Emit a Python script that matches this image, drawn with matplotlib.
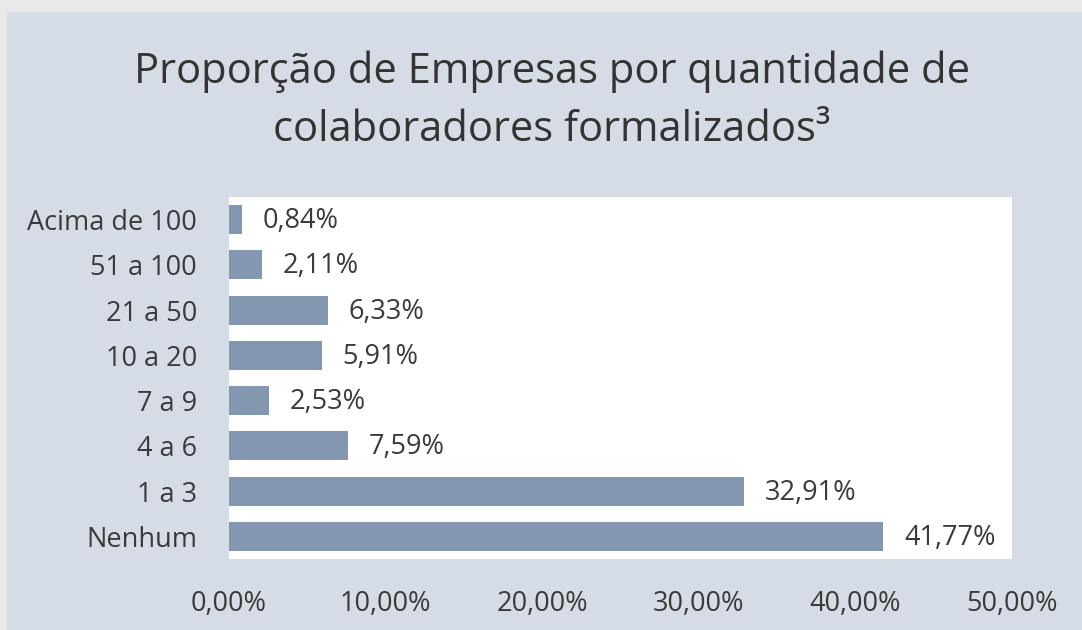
import matplotlib
matplotlib.use("Agg")
import matplotlib.pyplot as plt
from matplotlib.patches import Rectangle

categories = ["Nenhum", "1 a 3", "4 a 6", "7 a 9", "10 a 20", "21 a 50", "51 a 100", "Acima de 100"]
values = [41.77, 32.91, 7.59, 2.53, 5.91, 6.33, 2.11, 0.84]
xticks = [0, 10, 20, 30, 40, 50]
title_lines = ["Proporção de Empresas por quantidade de", "colaboradores formalizados³"]

plt.rcParams['font.family'] = ['Open Sans', 'DejaVu Sans']
W, H = 1082, 630
fig = plt.figure(figsize=(W/100, H/100), dpi=100)
fig.patch.set_facecolor('#e9e9e9')
fig.patches.append(Rectangle((7/W, 0), 1 - 7/W, 1 - 12/H, transform=fig.transFigure,
                             facecolor='#d6dce5', edgecolor='none', zorder=-5))

ax = fig.add_axes([229/W, (H-559)/H, (1012-229)/W, (559-197)/H])
ax.set_zorder(2)
ax.set_facecolor('white')
txt = '#3a3a3a'
fs = 19.5
y = range(len(categories))
ax.barh(y, values, height=0.64, color='#8497b0')
for i, v in enumerate(values):
    ax.annotate(f"{v:.2f}%".replace('.', ','), (v, i), xytext=(15, -1),
                textcoords='offset points', va='center', ha='left',
                fontsize=fs, color=txt)
ax.set_xlim(0, 50)
ax.set_ylim(-0.5, len(categories) - 0.5)
ax.set_yticks(list(y))
ax.set_yticklabels(categories, fontsize=fs, color=txt)
ax.set_xticks(xticks)
ax.set_xticklabels([f"{t:.2f}%".replace('.', ',') for t in xticks], fontsize=fs, color=txt)
ax.tick_params(axis='both', length=0)
ax.tick_params(axis='y', pad=23)
ax.tick_params(axis='x', pad=22)
for s in ax.spines.values():
    s.set_visible(False)

fig.text(552/W, 1 - 83/H, title_lines[0], ha='center', va='baseline', fontsize=30, color='#333333')
fig.text(552/W, 1 - 141/H, title_lines[1], ha='center', va='baseline', fontsize=30, color='#333333')

fig.savefig("out.png", dpi=100, facecolor=fig.get_facecolor())
